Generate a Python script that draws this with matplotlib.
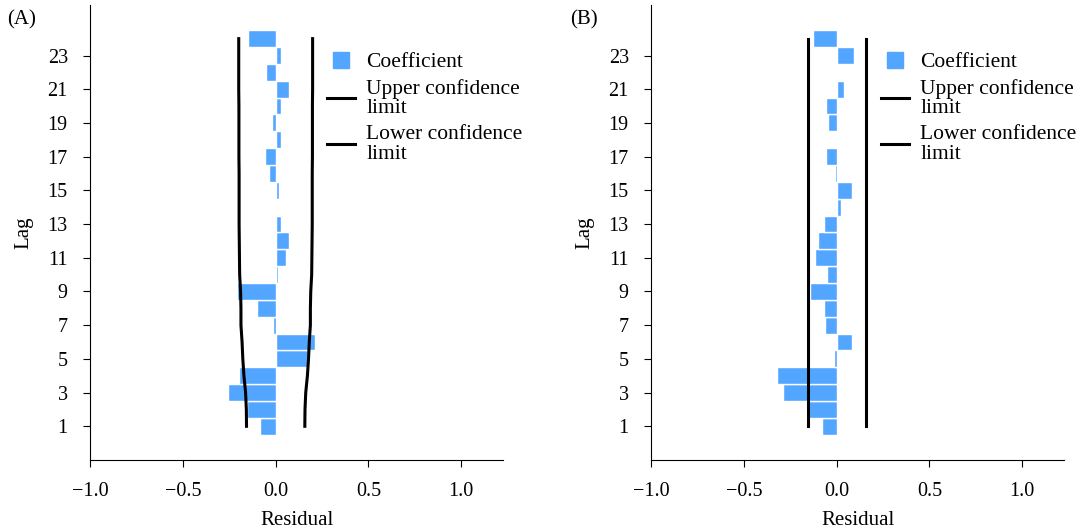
import numpy as np
import matplotlib.pyplot as plt
from matplotlib.lines import Line2D

plt.rcParams['font.family'] = ['Liberation Serif', 'DejaVu Serif']
plt.rcParams['font.size'] = 15

lags = np.arange(1, 25)

# Panel A autocorrelation coefficients, lags 1..24
coef_a = [-0.085, -0.155, -0.255, -0.200, 0.175, 0.210, -0.012, -0.100,
          -0.210, 0.010, 0.057, 0.073, 0.030, 0.005, 0.020, -0.035,
          -0.060, 0.030, -0.020, 0.030, 0.070, -0.050, 0.030, -0.150]
upper_a = [0.157, 0.158, 0.162, 0.171, 0.177, 0.181, 0.187, 0.187,
           0.189, 0.194, 0.195, 0.196, 0.197, 0.197, 0.197, 0.197,
           0.198, 0.198, 0.198, 0.198, 0.199, 0.199, 0.199, 0.199]
lower_a = [-v for v in upper_a]

# Panel B
coef_b = [-0.080, -0.160, -0.290, -0.320, -0.015, 0.080, -0.065, -0.070,
          -0.145, -0.050, -0.115, -0.100, -0.070, 0.025, 0.080, -0.008,
          -0.060, 0.005, -0.045, -0.060, 0.037, -0.004, 0.093, -0.125]
upper_b = [0.157] * 24
lower_b = [-0.157] * 24

bar_color = '#53a6ff'


def draw_panel(ax, coef, upper, lower, legend_x):
    ax.barh(lags, coef, height=1.0, color=bar_color, edgecolor='white', linewidth=1)
    ax.plot(upper, lags, color='black', lw=2.2)
    ax.plot(lower, lags, color='black', lw=2.2)
    ax.set_xlim(-1.0, 1.225)
    ax.set_ylim(-1, 26)
    ax.set_xticks([-1.0, -0.5, 0.0, 0.5, 1.0])
    ax.set_xticklabels(['\u22121.0', '\u22120.5', '0.0', '0.5', '1.0'])
    ax.set_yticks(np.arange(1, 24, 2))
    ax.spines['top'].set_visible(False)
    ax.spines['right'].set_visible(False)
    ax.tick_params(length=5, pad=11, labelsize=14.5)
    ax.set_xlabel('Residual', labelpad=7)
    ax.set_ylabel('Lag', labelpad=10)
    handles = [
        Line2D([], [], marker='s', ls='none', color=bar_color, markersize=11),
        Line2D([], [], color='black', lw=2.2),
        Line2D([], [], color='black', lw=2.2),
    ]
    labels = ['Coefficient', 'Upper confidence\nlimit', 'Lower confidence\nlimit']
    leg = ax.legend(handles, labels, loc='upper left', bbox_to_anchor=(legend_x, 0.929),
                    frameon=False, handlelength=1.3, handletextpad=0.5,
                    labelspacing=0.3, borderpad=0.2, fontsize=15.5)
    for t in leg.get_texts():
        t.set_linespacing(1.05)


fig = plt.figure(figsize=(10.77, 5.31), dpi=100)
ax_a = fig.add_axes([0.0836, 0.1337, 0.3835, 0.857])
ax_b = fig.add_axes([0.6045, 0.1337, 0.3835, 0.857])
draw_panel(ax_a, coef_a, upper_a, lower_a, 0.538)
draw_panel(ax_b, coef_b, upper_b, lower_b, 0.521)
fig.text(0.007, 0.962, '(A)', fontsize=15, va='center')
fig.text(0.529, 0.962, '(B)', fontsize=15, va='center')

fig.savefig('out.png', dpi=100)
